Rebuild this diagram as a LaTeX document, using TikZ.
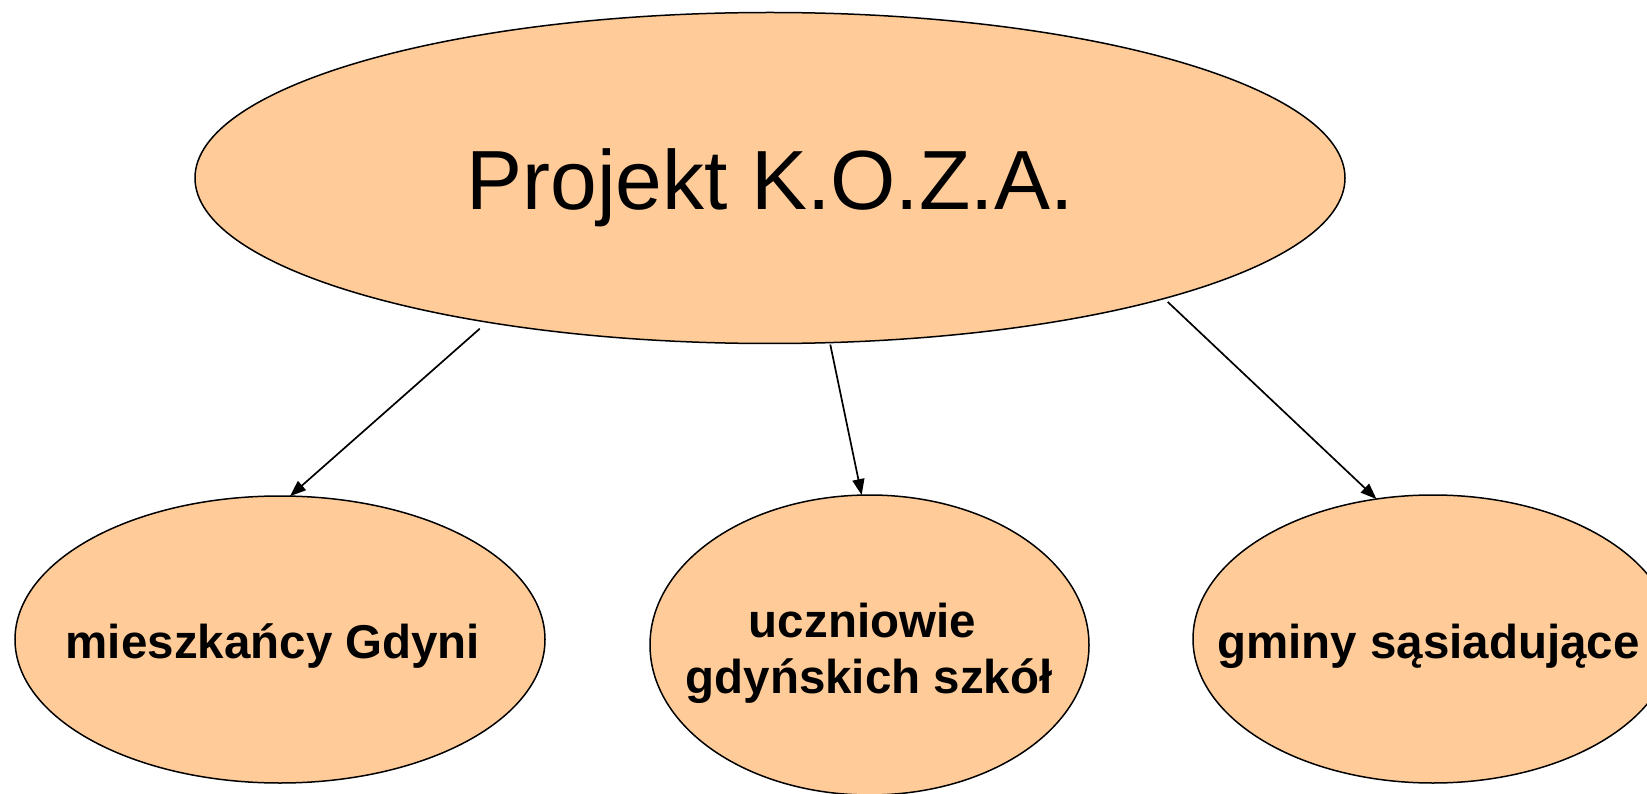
\documentclass[tikz,border=0pt]{standalone}
\usepackage{fontspec}
\setmainfont{Liberation Sans}
\usetikzlibrary{arrows.meta,shapes.geometric}
\definecolor{peach}{RGB}{255,204,153}
\begin{document}
\begin{tikzpicture}[x=1pt,y=-1pt,
  oval/.style={ellipse,draw=black,line width=1.5pt,fill=peach,inner sep=0pt,outer sep=0pt},
  lbl/.style={font=\fontsize{47.5}{56}\selectfont\bfseries,anchor=base,inner sep=0pt,align=center},
  arr/.style={-{Triangle[length=16pt,width=12pt]},line width=1.7pt}]
\clip (0,0) rectangle (1647,794);
\fill[white] (0,0) rectangle (1647,794);
% ovals
\node[oval,minimum width=1150pt,minimum height=331pt] (top) at (770,178) {};
\node[oval,minimum width=530pt,minimum height=287pt] (left) at (280,639.5) {};
\node[oval,minimum width=439pt,minimum height=300pt] (mid) at (869.5,645) {};
\node[oval,minimum width=480pt,minimum height=288pt] (right) at (1433,639) {};
% texts
\node[font=\fontsize{84}{100}\selectfont,anchor=base,inner sep=0pt] (toptext) at (770,210) {Projekt K.O.Z.A.};
\node[lbl] (lefttext) at (273,658) {mieszkańcy Gdyni};
\node[lbl,anchor=base] (midtext) at (869,693) {uczniowie\hspace*{0.278em}\\gdyńskich szkół};
\node[lbl] (righttext) at (1428.5,658) {gminy sąsiadujące};
% arrows
\draw[arr,shorten <=10pt] (top.207.6) -- (left.86.8);
\draw[arr,shorten <=2pt] (top.290.6) -- (mid.93.3);
\draw[arr,shorten <=5pt] (top.343.8) -- (right.112.3);
\end{tikzpicture}
\end{document}
